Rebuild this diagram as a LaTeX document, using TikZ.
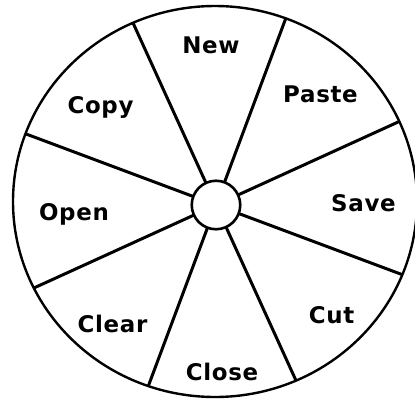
\documentclass[tikz,border=0pt]{standalone}
\usepackage{fontspec}
\newfontfamily\labfont[LetterSpace=3]{DejaVu Sans}
\begin{document}
\begin{tikzpicture}[x=1bp,y=-1bp,
  spoke/.style={line width=3bp},
  rim/.style={line width=2.4bp},
  lab/.style={font=\labfont\bfseries\fontsize{23}{23}\selectfont, anchor=base, inner sep=0pt}]
\useasboundingbox (0,0) rectangle (415,401);
\coordinate (c) at (216,205);
\coordinate (o) at (215,201.5);
\begin{scope}
  \clip (o) ellipse [x radius=202, y radius=195.5];
  \foreach \a in {20.5,65.5,...,335.5} \draw[spoke] (c) -- ++(\a:300);
\end{scope}
\draw[rim] (o) ellipse [x radius=202, y radius=195.5];
\node[draw, circle, fill=white, minimum size=48.5bp, line width=2.6bp, inner sep=0pt] (hub) at (c) {};
\node[lab] (new) at (211,53) {New};
\node[lab] (paste) at (320.5,102) {Paste};
\node[lab] (copy) at (100.5,113) {Copy};
\node[lab] (open) at (74,220) {Open};
\node[lab] (save) at (363.5,211) {Save};
\node[lab] (clear) at (112.5,332) {Clear};
\node[lab] (cut) at (331.5,323) {Cut};
\node[lab] (close) at (222,380) {Close};
\end{tikzpicture}
\end{document}
